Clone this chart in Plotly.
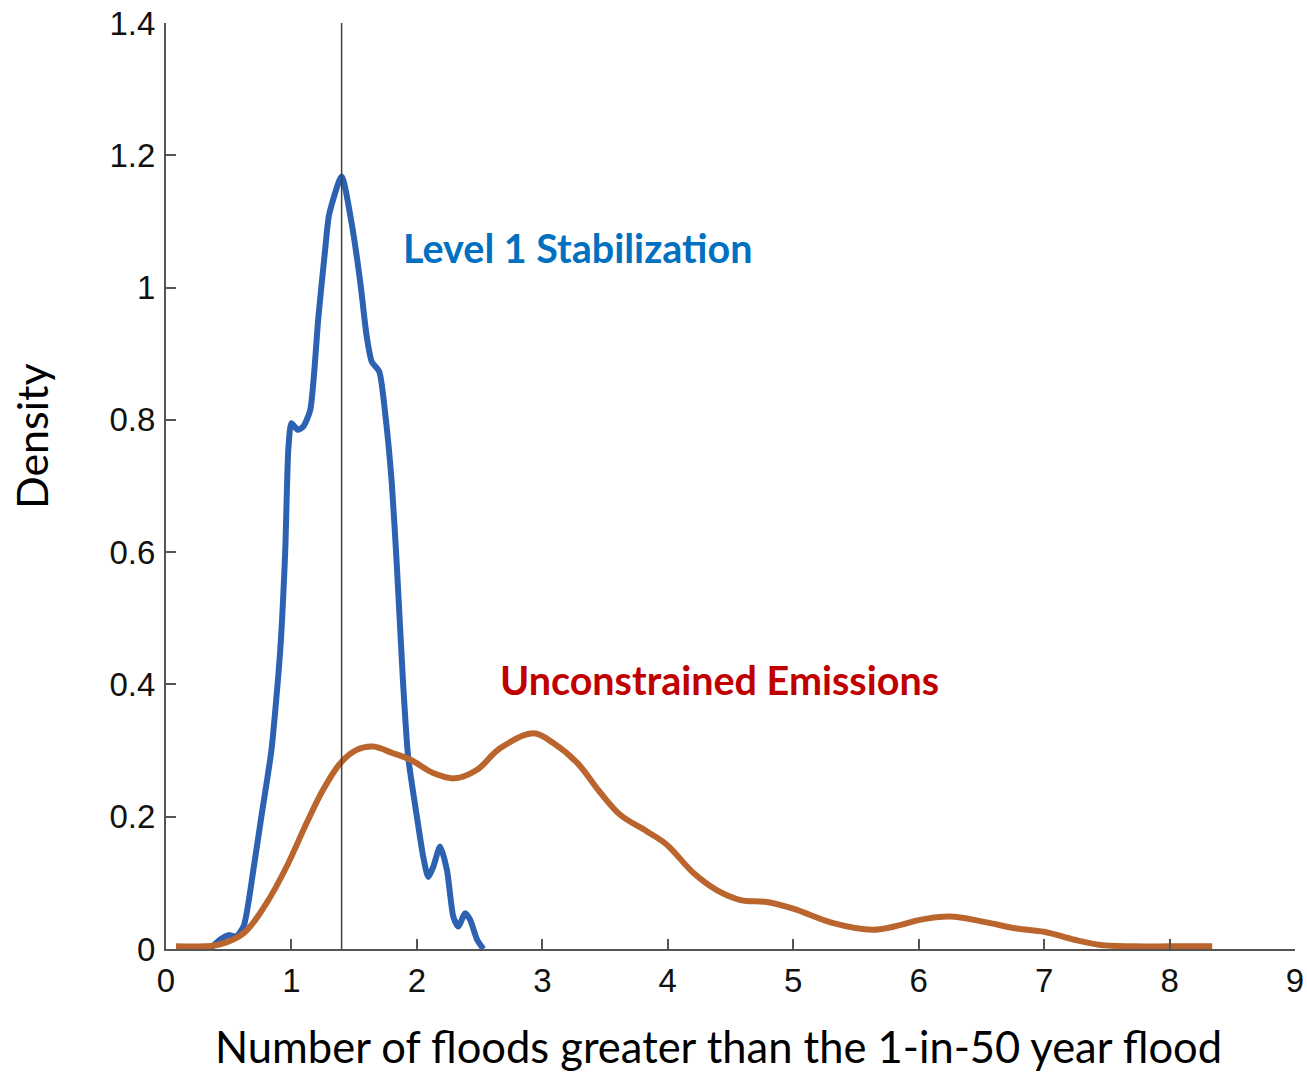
import plotly.graph_objects as go

# Level 1 Stabilization density (blue)
stab_x = [0.35, 0.43, 0.50, 0.56, 0.62, 0.70, 0.76, 0.84, 0.91, 0.95, 0.975, 1.00,
          1.05, 1.095, 1.15, 1.215, 1.27, 1.30, 1.40, 1.48, 1.55, 1.60, 1.64, 1.70,
          1.75, 1.80, 1.84, 1.89, 1.93, 2.00, 2.05, 2.09, 2.13, 2.185, 2.24, 2.29,
          2.33, 2.385, 2.425, 2.48, 2.53]
stab_y = [0.0, 0.014, 0.021, 0.019, 0.035, 0.124, 0.20, 0.30, 0.45, 0.60, 0.755, 0.795,
          0.785, 0.79, 0.815, 0.956, 1.06, 1.11, 1.168, 1.097, 1.006, 0.926, 0.888, 0.873,
          0.805, 0.704, 0.58, 0.402, 0.291, 0.20, 0.14, 0.109, 0.124, 0.155, 0.119, 0.049,
          0.034, 0.054, 0.044, 0.014, 0.0]

# Unconstrained Emissions density (orange)
unc_x = [0.08, 0.30, 0.43, 0.62, 0.80, 0.96, 1.12, 1.25, 1.39, 1.52, 1.65, 1.81, 1.95,
         2.13, 2.30, 2.48, 2.66, 2.93, 3.09, 3.28, 3.46, 3.62, 3.84, 3.99, 4.21, 4.39,
         4.58, 4.79, 5.00, 5.32, 5.63, 5.85, 6.01, 6.25, 6.52, 6.78, 7.00, 7.24, 7.45,
         7.70, 8.00, 8.34]
unc_y = [0.004, 0.004, 0.007, 0.024, 0.069, 0.124, 0.19, 0.24, 0.281, 0.301, 0.306, 0.296,
         0.286, 0.266, 0.258, 0.271, 0.303, 0.326, 0.311, 0.281, 0.237, 0.203, 0.177, 0.158,
         0.114, 0.089, 0.074, 0.071, 0.061, 0.039, 0.029, 0.036, 0.044, 0.049, 0.041, 0.031,
         0.026, 0.014, 0.006, 0.004, 0.004, 0.004]

threshold_x = 1.4
x_ticks = [0, 1, 2, 3, 4, 5, 6, 7, 8, 9]
y_ticks = [0, 0.2, 0.4, 0.6, 0.8, 1.0, 1.2, 1.4]
y_ticktext = ["0", "0.2", "0.4", "0.6", "0.8", "1", "1.2", "1.4"]

label_stab = "Level 1 Stabilization"
label_unc = "Unconstrained Emissions"
x_title = "Number of floods greater than the 1-in-50 year flood"
y_title = "Density"

fig = go.Figure()
fig.add_trace(go.Scatter(x=stab_x, y=stab_y, mode="lines",
                         line=dict(color="#2d62b3", width=6, shape="spline", smoothing=0.6),
                         showlegend=False, hoverinfo="skip"))
fig.add_trace(go.Scatter(x=unc_x, y=unc_y, mode="lines",
                         line=dict(color="#b9652d", width=6, shape="spline", smoothing=1.0),
                         showlegend=False, hoverinfo="skip"))
fig.add_trace(go.Scatter(x=[threshold_x, threshold_x], y=[y_ticks[0], y_ticks[-1]], mode="lines",
                         line=dict(color="#404040", width=1.5),
                         showlegend=False, hoverinfo="skip"))

fig.add_annotation(x=1.874, y=1.06, xref="x", yref="y", text="<b>%s</b>" % label_stab,
                   showarrow=False, xanchor="left", yanchor="middle",
                   font=dict(family="Lato", size=39.5, color="#0070c0"))
fig.add_annotation(x=2.648, y=0.407, xref="x", yref="y", text="<b>%s</b>" % label_unc,
                   showarrow=False, xanchor="left", yanchor="middle",
                   font=dict(family="Lato", size=39.5, color="#c00000"))

fig.add_annotation(x=0.489, y=0, xref="paper", yref="paper", text=x_title,
                   showarrow=False, xanchor="center", yanchor="middle", yshift=-97,
                   font=dict(family="Lato", size=43.5, color="#000000"))
fig.add_annotation(x=0, y=0.554, xref="paper", yref="paper", text=y_title, textangle=-90,
                   showarrow=False, xanchor="center", yanchor="middle", xshift=-134,
                   font=dict(family="Lato", size=43, color="#000000"))

axis_common = dict(showgrid=False, zeroline=False, showline=True, linecolor="#555555",
                   linewidth=2, ticks="inside", ticklen=10, tickwidth=2, tickcolor="#555555",
                   automargin=False,
                   tickfont=dict(family="Liberation Sans", size=33, color="#111111"))

fig.update_xaxes(range=[0, 9], tickmode="array", tickvals=x_ticks,
                 ticktext=[str(v) for v in x_ticks], ticklabelstandoff=1, **axis_common)
fig.update_yaxes(range=[0, 1.4], tickmode="array", tickvals=y_ticks,
                 ticktext=y_ticktext, ticklabelstandoff=2, **axis_common)

fig.update_layout(width=1307, height=1072, autosize=False,
                  margin=dict(l=166, r=12, t=23, b=123),
                  paper_bgcolor="white", plot_bgcolor="white")

fig.write_html("out.html")
